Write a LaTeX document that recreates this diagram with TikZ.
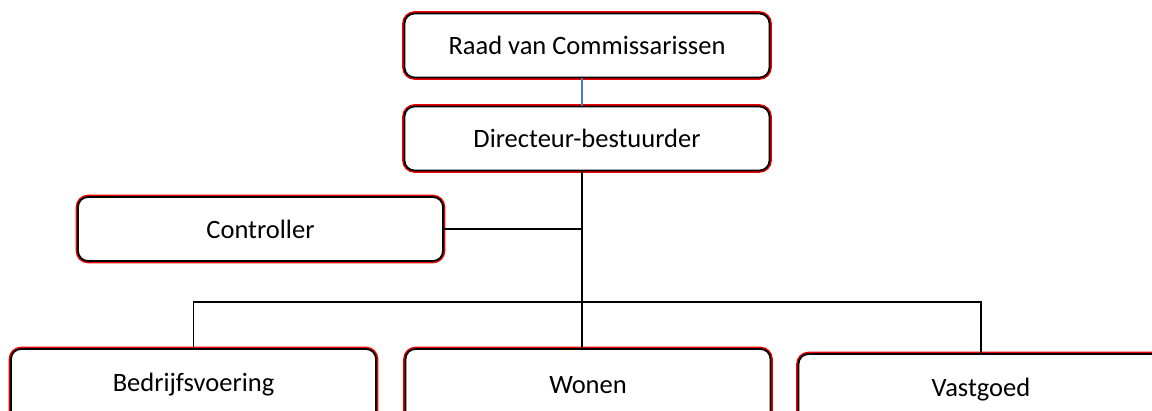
\documentclass[tikz,border=0pt]{standalone}
\usepackage{fontspec}
\setmainfont{Carlito}
\usepackage{tikz}
\usetikzlibrary{positioning}

\definecolor{boxred}{RGB}{235,0,0}
\definecolor{linkblue}{RGB}{74,126,187}

\begin{document}
\begin{tikzpicture}[x=1pt, y=1pt,
  every node/.style = {font=\fontsize{26.5}{32}\selectfont, align=center},
  orgbox/.style = {draw=black, line width=1.8pt, fill=white,
    rounded corners=10pt, minimum width=365pt, minimum height=64pt,
    preaction={draw=boxred, line width=4.6pt}},
  deptbox/.style = {orgbox, minimum height=72pt},
  link/.style = {draw=black, line width=1.6pt}]
  \useasboundingbox (0,0) rectangle (1152,411);
  % top of the chart
  \node[orgbox] (raad) at (587,365.5) {Raad van Commissarissen};
  \node[orgbox] (dir) at (587,272.5) {Directeur-bestuurder};
  \node[orgbox] (ctrl) at (260.5,182) {Controller};
  % departments
  \node[deptbox] (bedr) at (193.5,26) {Bedrijfsvoering};
  \node[deptbox] (wonen) at (588,26) {Wonen};
  \node[deptbox] (vast) at (981,21) {Vastgoed};
  \coordinate (bus) at (582,109);
  \draw[linkblue, line width=1.2pt] (raad.south -| bus) -- (dir.north -| bus);
  \draw[link] (dir.south -| bus) -- (wonen.north -| bus);
  \draw[link] (ctrl.east) -- (ctrl.east -| bus);
  \draw[link] (bedr.north) |- (bus) -| (vast.north);
\end{tikzpicture}
\end{document}
